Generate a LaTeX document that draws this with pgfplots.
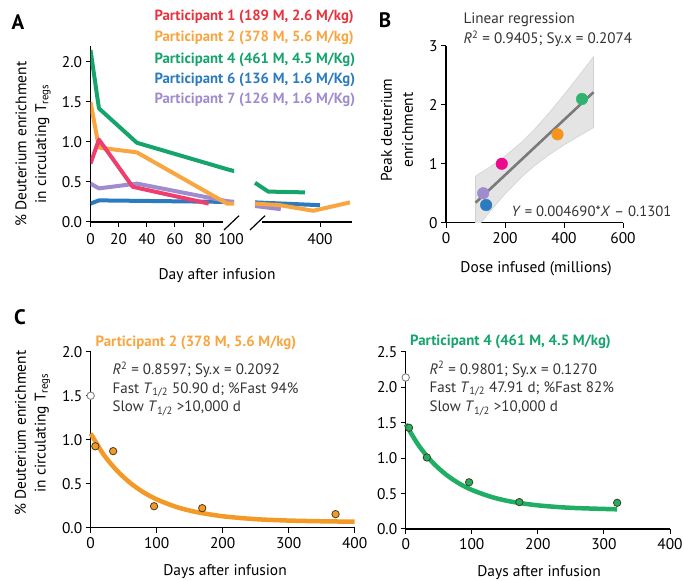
\documentclass[border=0pt]{standalone}
\usepackage{fontspec}
\setmainfont{PT Sans}
\usepackage{pgfplots}
\pgfplotsset{compat=1.18}

\definecolor{cP1}{HTML}{EE3E6E}
\definecolor{cP1t}{HTML}{E8333F}
\definecolor{cP2}{HTML}{F9A540}
\definecolor{cP4}{HTML}{14A46C}
\definecolor{cP6}{HTML}{2B7BC1}
\definecolor{cP7}{HTML}{A08BCF}
\definecolor{cMag}{HTML}{EC0B8C}
\definecolor{cOrB}{HTML}{F7941D}
\definecolor{cGrB}{HTML}{2DB56F}
\definecolor{txt}{HTML}{333333}
\definecolor{band}{HTML}{E4E4E4}
\definecolor{bandedge}{HTML}{D2D2D2}
\definecolor{regl}{HTML}{7A7A7A}
\definecolor{cOrC}{HTML}{F39A26}
\definecolor{cGrC}{HTML}{1FAE64}
\definecolor{mkedge}{HTML}{4A3A20}

\newcommand\fs[2]{\fontsize{#1}{#2}\selectfont}

\pgfplotsset{
  myaxis/.style={
    scale only axis,
    axis lines*=left,
    tick align=outside,
    major tick length=5bp,
    tick style={black, line width=1bp},
    axis line style={black, line width=1.2bp},
    ticklabel style={font=\fs{15.5}{17}},
    /pgf/number format/assume math mode=true,
    xlabel={}, ylabel={},
  },
  onedec/.style={yticklabel style={/pgf/number format/fixed, /pgf/number format/fixed zerofill, /pgf/number format/precision=1}},
}

\begin{document}
\begin{tikzpicture}[x=1bp,y=1bp]
\path[use as bounding box] (0,0) rectangle (684,581);

% ---------------- Panel A, left segment
\begin{axis}[myaxis, onedec, at={(90.5bp,359bp)}, anchor=south west,
  width=143.5bp, height=176bp, xmin=0, xmax=102, ymin=0, ymax=2.2,
  xtick={0,20,40,60,80}, extra x ticks={100}, extra x tick style={tick style={draw=none}},
  ytick={0,0.5,1,1.5,2},
  x axis line style={draw=none},
  xticklabel style={yshift=-3bp},
  line join=round]
\addplot[cP6, line width=4bp] coordinates {(0,0.23) (6,0.27) (102,0.25)};
\addplot[cP7, line width=4bp] coordinates {(0,0.48) (6,0.42) (33,0.48) (97,0.26) (102,0.25)};
\addplot[cP2, line width=4bp] coordinates {(0,1.50) (6,0.93) (33,0.87) (97,0.23) (102,0.23)};
\addplot[cP1, line width=4bp] coordinates {(0,0.73) (6,1.03) (30,0.44) (84,0.23)};
\addplot[cP4, line width=4bp] coordinates {(0,2.15) (6,1.42) (33,0.99) (97,0.66) (110,0.60)};
\end{axis}

% ---------------- Panel A, right segment
\begin{axis}[myaxis, at={(250bp,359bp)}, anchor=south west,
  width=102bp, height=176bp, xmin=120, xmax=528, ymin=0, ymax=2.2,
  xtick={400}, axis y line=none, x axis line style={draw=none},
  xticklabel style={yshift=-3bp},
  line join=round]
\addplot[cP6, line width=4bp] coordinates {(140,0.245) (400,0.21)};
\addplot[cP7, line width=4bp] coordinates {(140,0.20) (243,0.16)};
\addplot[cP2, line width=4bp] coordinates {(140,0.23) (240,0.21) (373,0.14) (520,0.245)};
\addplot[cP4, line width=4bp] coordinates {(140,0.49) (193,0.38) (340,0.37)};
\end{axis}

% axis line pieces and break marks
\draw[black, line width=1.2bp] (89.9,359) -- (223,359);
\draw[black, line width=1.2bp] (224,351) -- (239,365.3);
\draw[black, line width=1.2bp] (250,351) -- (265,365.3);
\draw[black, line width=1.2bp] (262,359) -- (352,359);

% Panel A texts
\node[font=\fs{21}{24}\bfseries] at (18,559) {A};
\node[rotate=90, align=center, font=\fs{15.5}{20}] at (33,437) {\% Deuterium enrichment\\in circulating T\textsubscript{regs}};
\node[font=\fs{15.5}{18}] at (217,305) {Day after infusion};
\node[anchor=west, font=\fs{14.8}{16}\bfseries, text=cP1t] at (151,564.3) {Participant 1 (189 M, 2.6 M/kg)};
\node[anchor=west, font=\fs{14.8}{16}\bfseries, text=cP2] at (151,542.7) {Participant 2 (378 M, 5.6 M/kg)};
\node[anchor=west, font=\fs{14.8}{16}\bfseries, text=cP4] at (151,521) {Participant 4 (461 M, 4.5 M/Kg)};
\node[anchor=west, font=\fs{14.8}{16}\bfseries, text=cP6] at (151,501) {Participant 6 (136 M, 1.6 M/Kg)};
\node[anchor=west, font=\fs{14.8}{16}\bfseries, text=cP7] at (151,481) {Participant 7 (126 M, 1.6 M/Kg)};

% ---------------- Panel B
\begin{axis}[myaxis, at={(446bp,358.3bp)}, anchor=south west,
  width=177bp, height=176.7bp, xmin=0, xmax=600, ymin=0, ymax=3,
  xtick={0,200,400,600}, ytick={0,1,2,3},
  xticklabel style={yshift=-1bp}]
\addplot[fill=band, draw=bandedge, line width=0.6bp] coordinates {
 (100,0.791) (150,0.950) (200,1.129) (258,1.375) (300,1.586) (350,1.868) (400,2.172) (450,2.491) (500,2.817)
 (500,1.613) (450,1.470) (400,1.320) (350,1.155) (300,0.968) (258,0.785) (200,0.487) (150,0.197) (100,-0.113)} -- cycle;
\addplot[regl, line width=2.6bp] coordinates {(100,0.339) (500,2.215)};
\addplot[only marks, mark=*, mark size=5.8bp, mark options={draw=cP7, fill=cP7}] coordinates {(126,0.5)};
\addplot[only marks, mark=*, mark size=5.8bp, mark options={draw=cP6, fill=cP6}] coordinates {(136,0.3)};
\addplot[only marks, mark=*, mark size=5.8bp, mark options={draw=cMag, fill=cMag}] coordinates {(189,1.0)};
\addplot[only marks, mark=*, mark size=5.8bp, mark options={draw=cOrB, fill=cOrB}] coordinates {(378,1.5)};
\addplot[only marks, mark=*, mark size=5.8bp, mark options={draw=cGrB, fill=cGrB}] coordinates {(461,2.1)};
\end{axis}
\node[font=\fs{21}{24}\bfseries] at (385,561) {B};
\node[anchor=west, font=\fs{15.2}{17}, text=txt] at (460,561) {Linear regression};
\node[anchor=west, font=\fs{15.2}{17}, text=txt] at (460,542) {\textit{R}\textsuperscript{2} = 0.9405; Sy.x = 0.2074};
\node[anchor=east, font=\fs{14.8}{17}, text=txt] at (675,369.3) {\textit{Y} = 0.004690*\textit{X} -- 0.1301};
\node[rotate=90, align=center, font=\fs{15.5}{21}] at (397,451) {Peak deuterium\\enrichment};
\node[font=\fs{15.5}{18}] at (536,312) {Dose infused (millions)};

% ---------------- Panel C left
\begin{axis}[myaxis, onedec, at={(90.7bp,53.3bp)}, anchor=south west,
  width=264bp, height=176bp, xmin=0, xmax=400, ymin=0, ymax=2,
  xtick={0,100,200,300,400}, ytick={0,0.5,1,1.5,2},
  xticklabel style={yshift=-1bp}, clip=false]
\addplot[cOrC, line width=4.5bp, smooth] coordinates {
 (0,1.070) (20,0.826) (40,0.647) (60,0.508) (80,0.402) (100,0.322) (130,0.235) (160,0.178) (200,0.130) (250,0.097) (300,0.081) (350,0.073) (400,0.068)};
\addplot[only marks, mark=*, mark size=3.7bp, mark options={draw=mkedge, line width=0.8bp, fill=cOrC}] coordinates {
 (7,0.925) (34,0.87) (96,0.244) (169,0.222) (371,0.154)};
\addplot[only marks, mark=*, mark size=3.7bp, mark options={draw=gray, line width=0.9bp, fill=white}] coordinates {(0,1.5)};
\end{axis}
\node[font=\fs{21}{24}\bfseries] at (20,264.3) {C};
\node[rotate=90, align=center, font=\fs{15.5}{20}] at (32.5,148) {\% Deuterium enrichment\\in circulating T\textsubscript{regs}};
\node[font=\fs{15.5}{18}] at (225,9.3) {Days after infusion};
\node[font=\fs{14.9}{17}\bfseries, text=cP2] at (196,238.3) {Participant 2 (378 M, 5.6 M/kg)};
\node[anchor=west, font=\fs{15.1}{17}, text=txt] at (109,211) {\textit{R}\textsuperscript{2} = 0.8597; Sy.x = 0.2092};
\node[anchor=west, font=\fs{15.1}{17}, text=txt] at (109,191) {Fast \textit{T}\textsubscript{1/2} 50.90 d; \%Fast 94\%};
\node[anchor=west, font=\fs{15.1}{17}, text=txt] at (109,172.7) {Slow \textit{T}\textsubscript{1/2} >10,000 d};

% ---------------- Panel C right
\begin{axis}[myaxis, onedec, at={(405.7bp,52bp)}, anchor=south west,
  width=264.3bp, height=177bp, xmin=0, xmax=400, ymin=0, ymax=2.5,
  xtick={0,100,200,300,400}, ytick={0,0.5,1,1.5,2,2.5},
  xticklabel style={yshift=-1bp}, clip=false]
\addplot[cGrC, line width=4.5bp, smooth] coordinates {
 (0,1.480) (20,1.175) (40,0.947) (60,0.776) (80,0.648) (100,0.552) (130,0.452) (160,0.386) (200,0.334) (250,0.299) (320,0.278)};
\addplot[only marks, mark=*, mark size=3.7bp, mark options={draw=mkedge, line width=0.8bp, fill=cGrC}] coordinates {
 (5,1.43) (32,1.01) (96,0.66) (172,0.38) (320,0.37)};
\addplot[only marks, mark=*, mark size=3.7bp, mark options={draw=gray, line width=0.9bp, fill=white}] coordinates {(0,2.14)};
\end{axis}
\node[font=\fs{14.9}{17}\bfseries, text=cP4] at (510.5,239.3) {Participant 4 (461 M, 4.5 M/kg)};
\node[anchor=west, font=\fs{15.1}{17}, text=txt] at (426,211.7) {\textit{R}\textsuperscript{2} = 0.9801; Sy.x = 0.1270};
\node[anchor=west, font=\fs{15.1}{17}, text=txt] at (426,192) {Fast \textit{T}\textsubscript{1/2} 47.91 d; \%Fast 82\%};
\node[anchor=west, font=\fs{15.1}{17}, text=txt] at (426,172.7) {Slow \textit{T}\textsubscript{1/2} >10,000 d};
\node[font=\fs{15.5}{18}] at (539,8.3) {Days after infusion};
\end{tikzpicture}
\end{document}
